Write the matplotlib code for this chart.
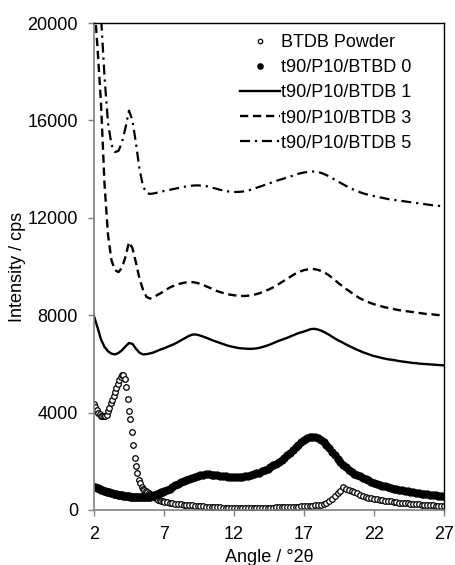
import numpy as np
import matplotlib
matplotlib.use("Agg")
import matplotlib.pyplot as plt

plt.rcParams['font.family'] = ['Liberation Sans', 'DejaVu Sans']
plt.rcParams['font.size'] = 13

# angle grids (degrees 2-theta)
angle_pts = np.round(np.concatenate([np.arange(2.0, 7.05, 0.1),
                                     np.arange(7.2, 27.05, 0.2)]), 2)
angle_line = np.arange(2.0, 27.01, 0.25)

# BTDB Powder (open circles)
powder = [
    4350, 4250, 4100, 4000, 3930, 3880, 3860, 3850, 3870, 3920,
    4050, 4200, 4380, 4530, 4690, 4850, 5000, 5180, 5350, 5480,
    5560, 5540, 5380, 5050, 4550, 4080, 3720, 3200, 2680, 2120,
    1820, 1500, 1250, 1090, 960, 870, 810, 770, 740, 700,
    650, 600, 560, 520, 485, 455, 425, 400, 380, 360,
    340,
    320, 300, 285, 265, 250, 238, 225, 213, 200, 190,
    180, 170, 160, 150, 140, 132, 125, 118, 112, 106,
    102, 98, 95, 92, 90, 88, 87, 86, 85, 85,
    86, 87, 88, 90, 92, 94, 96, 98, 100, 103,
    106, 110, 114, 118, 122, 127, 132, 138, 144, 150,
    158, 166, 175, 185, 200, 220, 250, 300, 380, 470,
    570, 680, 800, 940, 870, 820, 780, 730, 680, 630,
    590, 550, 510, 480, 455, 435, 415, 395, 380, 365,
    350, 335, 320, 305, 295, 285, 275, 265, 255, 245,
    235, 225, 215, 205, 195, 185, 175, 165, 155, 145,
]

# t90/P10/BTBD 0 (filled dots)
btbd0 = [
    960, 940, 915, 890, 865, 840, 815, 795, 775, 755,
    740, 722, 705, 690, 675, 660, 645, 632, 620, 608,
    597, 587, 578, 570, 562, 555, 549, 543, 538, 534,
    530, 527, 524, 522, 520, 519, 520, 524, 530, 540,
    552, 566, 582, 600, 620, 645, 670, 695, 720, 740,
    765,
    820, 880, 950, 1010, 1070, 1130, 1190, 1240, 1290, 1330,
    1370, 1400, 1430, 1450, 1460, 1460, 1450, 1440, 1425, 1410,
    1395, 1380, 1370, 1360, 1355, 1355, 1360, 1370, 1385, 1405,
    1430, 1460, 1500, 1540, 1590, 1640, 1700, 1760, 1830, 1900,
    1980, 2060, 2150, 2250, 2350, 2460, 2570, 2680, 2780, 2870,
    2940, 2990, 3010, 3000, 2960, 2890, 2800, 2680, 2550, 2400,
    2250, 2110, 1980, 1860, 1750, 1650, 1560, 1490, 1430, 1380,
    1320, 1270, 1220, 1170, 1120, 1080, 1040, 1000, 970, 940,
    910, 880, 855, 830, 810, 790, 770, 750, 730, 710,
    690, 675, 660, 645, 630, 615, 600, 585, 570, 555,
]

# t90/P10/BTDB 1 (solid)
btdb1 = [
    7960, 7500, 7000, 6700, 6520, 6420, 6390, 6450, 6560, 6720,
    6860, 6820, 6620, 6460, 6390, 6400, 6430, 6470, 6530, 6590,
    6640, 6700, 6760, 6820, 6900, 6980, 7060, 7140, 7200, 7210,
    7180, 7130, 7080, 7020, 6960, 6910, 6860, 6810, 6760, 6720,
    6690, 6660, 6640, 6630, 6620, 6620, 6630, 6650, 6690, 6730,
    6780, 6840, 6900, 6960, 7010, 7060, 7120, 7180, 7240, 7290,
    7330, 7380, 7430, 7440, 7410, 7360, 7290, 7210, 7120, 7030,
    6950, 6880, 6800, 6730, 6660, 6590, 6530, 6470, 6420, 6370,
    6320, 6290, 6250, 6220, 6190, 6170, 6150, 6120, 6100, 6080,
    6060, 6040, 6030, 6010, 6000, 5990, 5980, 5970, 5960, 5950,
    5940,
]

# t90/P10/BTDB 3 (dashed)
btdb3 = [
    21000, 19000, 16700, 13400, 11300, 10250, 9850, 9770, 9950, 10400,
    11000, 10750, 10150, 9500, 9050, 8750, 8680, 8740, 8820, 8900,
    8990, 9080, 9160, 9220, 9270, 9310, 9340, 9360, 9360, 9340,
    9300, 9250, 9190, 9130, 9070, 9000, 8950, 8910, 8870, 8840,
    8820, 8800, 8790, 8790, 8800, 8820, 8850, 8890, 8940, 9000,
    9060, 9130, 9210, 9300, 9390, 9480, 9570, 9660, 9740, 9800,
    9850, 9880, 9900, 9890, 9860, 9810, 9740, 9650, 9540, 9420,
    9300, 9190, 9080, 8980, 8880, 8780, 8690, 8620, 8560, 8500,
    8450, 8410, 8370, 8330, 8300, 8270, 8240, 8210, 8190, 8170,
    8150, 8130, 8110, 8090, 8070, 8050, 8040, 8030, 8010, 8000,
    7990,
]

# t90/P10/BTDB 5 (dash-dot)
btdb5 = [
    21500, 21000, 20300, 17800, 15900, 15000, 14700, 14750, 15100, 15700,
    16400, 16000, 15050, 14000, 13300, 13020, 12980, 13000, 13030, 13070,
    13100, 13130, 13160, 13190, 13220, 13250, 13280, 13300, 13320, 13330,
    13330, 13320, 13300, 13270, 13230, 13190, 13150, 13120, 13090, 13070,
    13060, 13060, 13070, 13090, 13120, 13160, 13210, 13260, 13310, 13360,
    13410, 13460, 13510, 13560, 13600, 13650, 13690, 13740, 13790, 13830,
    13860, 13880, 13900, 13900, 13880, 13840, 13780, 13710, 13630, 13550,
    13470, 13390, 13310, 13240, 13170, 13110, 13050, 13000, 12960, 12920,
    12890, 12860, 12830, 12800, 12770, 12750, 12730, 12710, 12690, 12670,
    12650, 12630, 12610, 12590, 12570, 12550, 12530, 12510, 12500, 12480,
    12460,
]

labels = ["BTDB Powder", "t90/P10/BTBD 0", "t90/P10/BTDB 1",
          "t90/P10/BTDB 3", "t90/P10/BTDB 5"]
xticks = [2, 7, 12, 17, 22, 27]
yticks = [0, 4000, 8000, 12000, 16000, 20000]

fig = plt.figure(figsize=(4.56, 5.65), dpi=100)
ax = fig.add_axes([94/456, 1 - 510/565, 350/456, 487/565])

ax.plot(angle_pts, powder, linestyle='none', marker='o', ms=4.0,
        mfc='white', mec='black', mew=0.9, label=labels[0])
ax.plot(angle_pts, btbd0, linestyle='none', marker='o', ms=6.0,
        mfc='black', mec='black', mew=0, label=labels[1])
ax.plot(angle_line, btdb1, color='black', lw=1.7, label=labels[2])
ax.plot(angle_line, btdb3, color='black', lw=1.7, dashes=(3.5, 2),
        label=labels[3])
ax.plot(angle_line, btdb5, color='black', lw=1.6, dashes=(4.5, 2.2, 1, 2.2),
        label=labels[4])

ax.set_xlim(2, 27)
ax.set_ylim(0, 20000)
ax.set_xticks(xticks)
ax.set_yticks(yticks)
ax.tick_params(direction='out', length=4.5, width=1, color='#808080',
               pad=7, labelsize=13)

for side in ['left', 'bottom']:
    ax.spines[side].set_color('#808080')
    ax.spines[side].set_linewidth(1.2)
for side in ['top', 'right']:
    ax.spines[side].set_color('black')
    ax.spines[side].set_linewidth(1.0)

ax.set_xlabel("Angle / \u00b02\u03b8", fontsize=13, labelpad=4)
ax.set_ylabel("Intensity / cps", fontsize=13, labelpad=1)

ax.legend(loc='upper left', bbox_to_anchor=(0.417, 0.977), frameon=False,
          borderpad=0, borderaxespad=0, handlelength=2.2, handletextpad=0.1,
          labelspacing=0.45, fontsize=13, markerscale=0.8)

fig.savefig("out.png", dpi=100)
